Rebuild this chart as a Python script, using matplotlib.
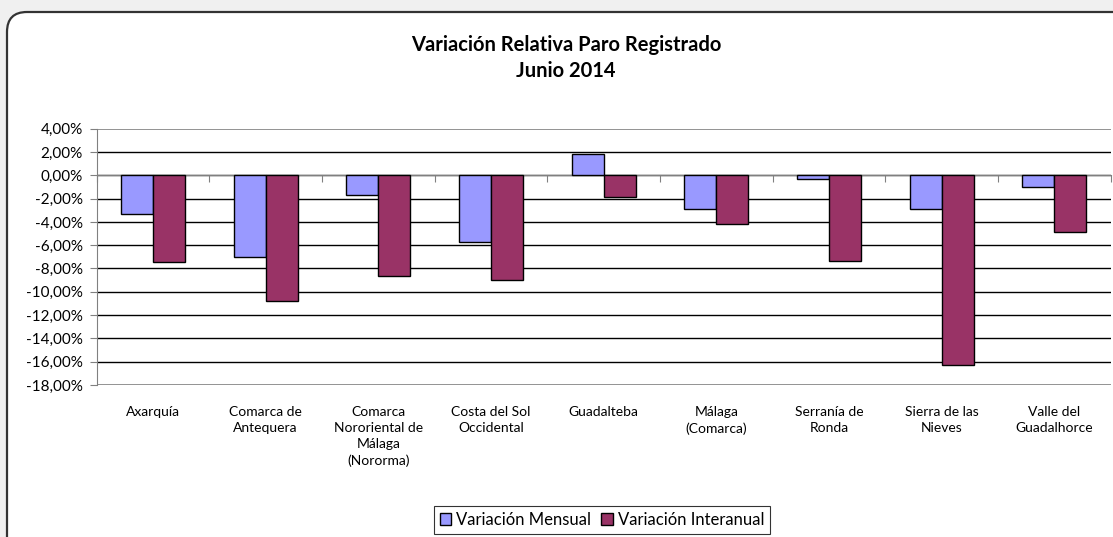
import matplotlib
matplotlib.use("Agg")
import matplotlib.pyplot as plt
import matplotlib.transforms as mtransforms
from matplotlib.patches import FancyBboxPatch, Patch
import numpy as np

# data (percent)
comarcas = ["Axarquía", "Comarca de\nAntequera", "Comarca\nNororiental de\nMálaga\n(Nororma)",
            "Costa del Sol\nOccidental", "Guadalteba", "Málaga\n(Comarca)", "Serranía de\nRonda",
            "Sierra de las\nNieves", "Valle del\nGuadalhorce"]
mensual = [-3.31, -6.98, -1.72, -5.75, 1.86, -2.86, -0.31, -2.86, -1.03]
interanual = [-7.47, -10.80, -8.61, -8.98, -1.86, -4.15, -7.38, -16.25, -4.83]
yticks = [4, 2, 0, -2, -4, -6, -8, -10, -12, -14, -16, -18]

col_men = "#9999FF"
col_int = "#993366"
font = "Lato"

fig = plt.figure(figsize=(11.13, 5.37), dpi=100)
fig.patch.set_facecolor("#f0f0f0")

# rounded white chart area frame (pixel coords)
frame = FancyBboxPatch((7, -40), 1200, 525 + 40, boxstyle="round,pad=0,rounding_size=20",
                       transform=mtransforms.IdentityTransform(), facecolor="white",
                       edgecolor="#333333", linewidth=1.6, zorder=-5)
fig.patches.append(frame)

ax = fig.add_axes([96.7 / 1113, 152 / 537, 1014 / 1113, 256.3 / 537])
ax.set_facecolor("none")

x = np.arange(len(comarcas))
w = 0.285
ax.bar(x - w / 2, mensual, w, color=col_men, edgecolor="black", linewidth=1, zorder=3)
ax.bar(x + w / 2, interanual, w, color=col_int, edgecolor="black", linewidth=1, zorder=3)

ax.set_xlim(-0.5, len(comarcas) - 0.5)
ax.set_ylim(-18, 4)

# gridlines
for t in yticks[1:-1]:
    ax.axhline(t, color="black", linewidth=1, zorder=1)
ax.axhline(4, color="#808080", linewidth=1.2, zorder=1)
ax.axhline(-18, color="#808080", linewidth=1.2, zorder=1)

ax.set_yticks(yticks)
ax.set_yticklabels([("%.2f%%" % t).replace(".", ",") for t in yticks], fontfamily=font, fontsize=11)
ax.tick_params(axis="y", direction="out", length=5, color="#808080", pad=5)

for s in ["top", "right"]:
    ax.spines[s].set_visible(False)
ax.spines["left"].set_color("#808080")
ax.spines["bottom"].set_position(("data", 0))
ax.spines["bottom"].set_color("#808080")
ax.spines["bottom"].set_zorder(2)
ax.set_xticks(np.arange(len(comarcas) + 1) - 0.5)
ax.set_xticklabels([])
ax.tick_params(axis="x", direction="out", length=5, color="#808080")

# category labels under the plot
trans = mtransforms.blended_transform_factory(ax.transData, ax.transAxes)
for i, name in enumerate(comarcas):
    ax.text(i, -0.082, name, transform=trans, ha="center", va="top", fontfamily=font,
            fontsize=10, linespacing=1.4)

fig.text(566 / 1113, 1 - 45 / 537, "Variación Relativa Paro Registrado", ha="center", va="center",
         fontfamily=font, fontsize=14.5, fontweight="bold")
fig.text(566 / 1113, 1 - 71 / 537, "Junio 2014", ha="center", va="center",
         fontfamily=font, fontsize=14.5, fontweight="bold")

handles = [Patch(facecolor=col_men, edgecolor="black", label="Variación Mensual"),
           Patch(facecolor=col_int, edgecolor="black", label="Variación Interanual")]
leg = fig.legend(handles=handles, loc="center", bbox_to_anchor=(602 / 1113, 1 - 520 / 537), ncol=2,
                 frameon=True, fancybox=False, prop={"family": font, "size": 12},
                 handlelength=0.7, handleheight=0.7, handletextpad=0.3, columnspacing=0.6,
                 borderpad=0.35, borderaxespad=0)
leg.get_frame().set_edgecolor("black")
leg.get_frame().set_linewidth(0.8)

fig.savefig("out.png", dpi=100, facecolor=fig.get_facecolor())
